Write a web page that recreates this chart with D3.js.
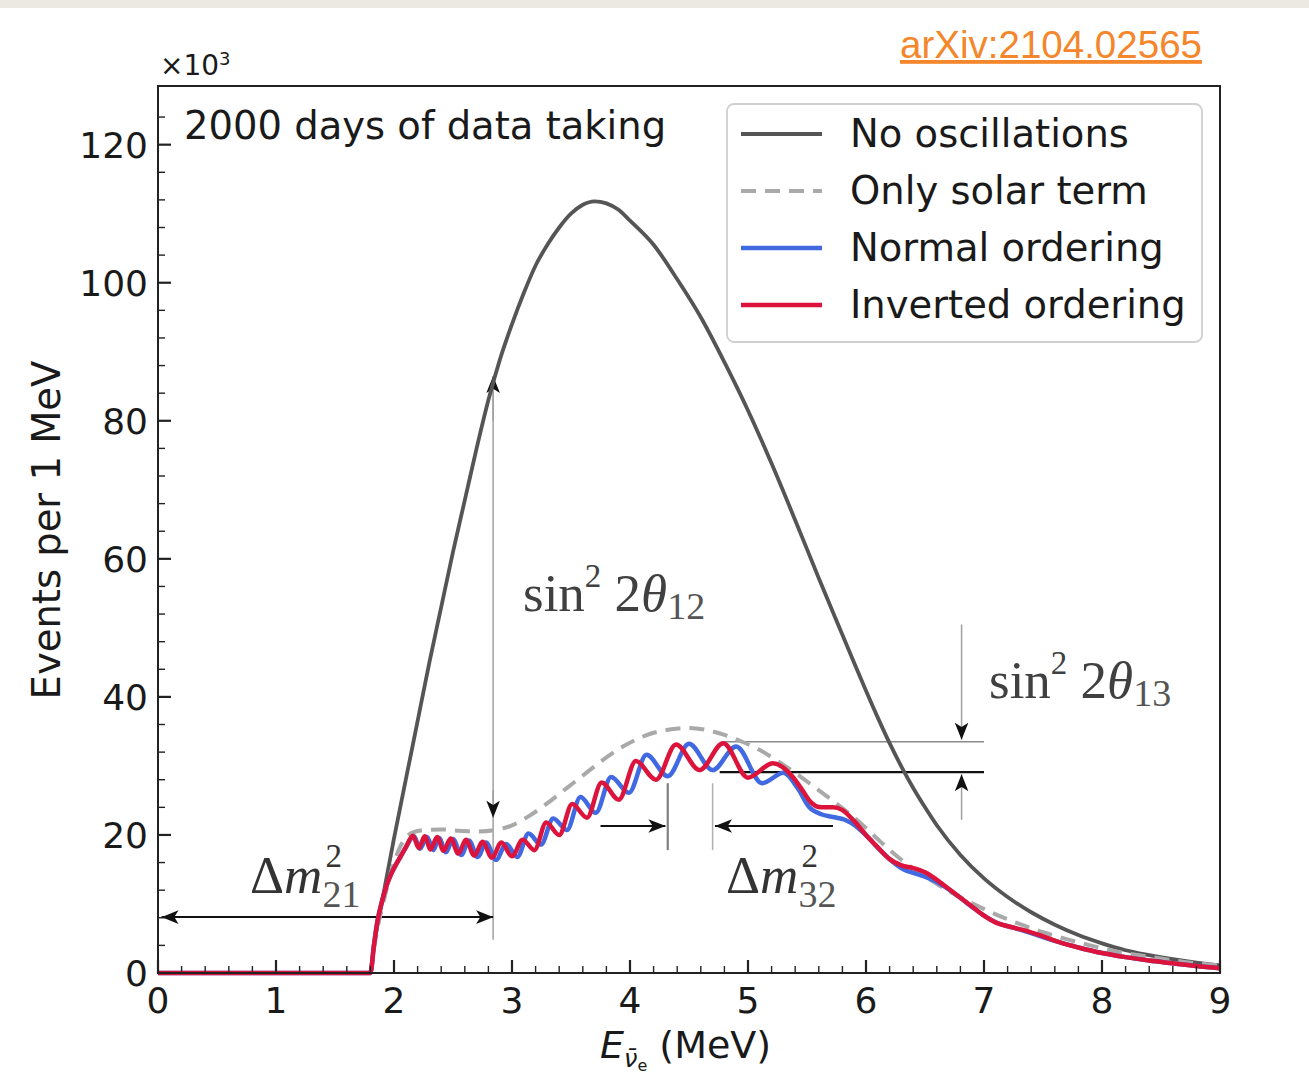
<!DOCTYPE html>
<html>
<head>
<meta charset="utf-8">
<script src="https://cdn.jsdelivr.net/npm/d3@7"></script>
<style>
  body { margin: 0; background: #fff; }
</style>
</head>
<body>
<div id="chart"></div>
<script>
// ---- data (energy in MeV, events in units of 10^3 per MeV) ----
const xTicks = [0, 1, 2, 3, 4, 5, 6, 7, 8, 9];
const yTicks = [0, 20, 40, 60, 80, 100, 120];
const seriesNames = ["No oscillations", "Only solar term", "Normal ordering", "Inverted ordering"];

const noOscillations = [
  [0, 0], [1.8, 0], [1.83, 4], [1.86, 7], [1.9, 10.5], [1.95, 15], [2.0, 19.5], [2.1, 28],
  [2.2, 36.5], [2.3, 45], [2.4, 53], [2.5, 61], [2.6, 68.5], [2.7, 76], [2.8, 83], [2.9, 89],
  [3.0, 94], [3.1, 98.5], [3.2, 102.5], [3.3, 105.5], [3.4, 108], [3.5, 110], [3.6, 111.3],
  [3.7, 111.8], [3.8, 111.5], [3.9, 110.6], [4.0, 109], [4.2, 105.5], [4.4, 100.5], [4.6, 95],
  [4.8, 88.5], [5.0, 81.5], [5.2, 73.8], [5.4, 65.6], [5.6, 57.2], [5.8, 49], [5.9, 44.9],
  [6.0, 40.9], [6.1, 37], [6.2, 33.3], [6.3, 29.9], [6.4, 26.8], [6.5, 24], [6.6, 21.4],
  [6.8, 17.1], [7.0, 13.7], [7.2, 11], [7.4, 8.8], [7.6, 7], [7.8, 5.5], [8.0, 4.3], [8.2, 3.3],
  [8.4, 2.6], [8.6, 2], [8.8, 1.5], [9.0, 1.1]
];

const solarOnly = [
  [1.8, 0], [1.83, 3.5], [1.86, 6.5], [1.9, 9.5], [1.95, 13], [2.0, 16], [2.05, 18.2], [2.1, 19.6],
  [2.15, 20.3], [2.25, 20.7], [2.4, 20.8], [2.55, 20.6], [2.7, 20.5], [2.85, 20.7], [3.0, 21.4],
  [3.15, 22.8], [3.3, 24.6], [3.45, 26.6], [3.6, 28.6], [3.75, 30.6], [3.9, 32.4], [4.05, 33.8],
  [4.2, 34.8], [4.35, 35.3], [4.5, 35.5], [4.65, 35.2], [4.8, 34.5], [4.95, 33.5], [5.1, 32.3],
  [5.25, 30.7], [5.4, 29], [5.55, 27.1], [5.7, 25.2], [5.85, 23.2], [6.0, 21], [6.15, 18.6],
  [6.3, 16.4], [6.5, 14], [6.7, 11.9], [6.9, 10.1], [7.1, 8.5], [7.3, 7.1], [7.5, 5.9],
  [7.7, 4.9], [7.9, 4.0], [8.1, 3.2], [8.3, 2.6], [8.5, 2.1], [8.7, 1.6], [9.0, 1.1]
];

const normalOrdering = [
  [0, 0], [1.8, 0], [1.83, 4], [1.86, 7.5], [1.9, 10.5], [1.94, 12.8], [1.98, 14.5], [2.02, 15.8],
  [2.06, 17], [2.1, 18.2], [2.17, 19.8], [2.22, 18.0], [2.28, 19.7], [2.335, 17.8], [2.38, 19.6],
  [2.44, 17.5], [2.5, 19.4], [2.57, 17.1], [2.635, 19.2], [2.71, 16.8], [2.78, 18.9], [2.865, 16.4],
  [2.95, 18.7], [3.045, 16.8], [3.14, 20.2], [3.245, 18.6], [3.35, 22.4], [3.465, 20.7],
  [3.58, 25.5], [3.71, 23.2], [3.84, 28.4], [3.99, 26.1], [4.14, 31.6], [4.32, 28.5],
  [4.5, 33.2], [4.7, 29.4], [4.9, 32.8], [5.12, 27.5], [5.3, 29.0], [5.42, 26.8], [5.52, 24.0],
  [5.62, 23.0], [5.72, 22.6], [5.82, 22.2], [5.92, 21.2], [6.02, 19.6], [6.12, 17.8], [6.22, 16.2],
  [6.32, 15.0], [6.42, 14.4], [6.52, 13.8], [6.62, 13.0], [6.72, 11.9], [6.82, 10.6], [6.92, 9.3],
  [7.02, 8.1], [7.12, 7.2], [7.24, 6.6], [7.36, 6.0], [7.5, 5.2], [7.65, 4.4], [7.8, 3.7],
  [8.0, 2.9], [8.2, 2.3], [8.4, 1.8], [8.6, 1.4], [8.8, 1.0], [9.0, 0.7]
];

const invertedOrdering = [
  [0, 0], [1.8, 0], [1.83, 4], [1.86, 7.5], [1.9, 10.5], [1.94, 12.8], [1.98, 14.5], [2.02, 15.8],
  [2.06, 17], [2.1, 18.2], [2.16, 19.9], [2.21, 18.1], [2.26, 19.8], [2.31, 17.9], [2.365, 19.7],
  [2.42, 17.7], [2.48, 19.5], [2.545, 17.3], [2.61, 19.3], [2.68, 17.0], [2.75, 19.0], [2.83, 16.7],
  [2.91, 18.9], [3.0, 16.9], [3.09, 19.3], [3.19, 17.8], [3.29, 21.8], [3.4, 20.0], [3.51, 24.5],
  [3.635, 22.5], [3.76, 27.6], [3.905, 25.1], [4.05, 30.7], [4.22, 28.0], [4.39, 33.1],
  [4.59, 29.4], [4.79, 33.3], [5.0, 28.3], [5.21, 30.4], [5.38, 28.4], [5.46, 26.5], [5.53, 24.8],
  [5.62, 24.0], [5.72, 24.0], [5.8, 23.6], [5.9, 22.0], [6.0, 20.0], [6.1, 18.2], [6.2, 16.5],
  [6.3, 15.6], [6.4, 15.2], [6.5, 14.6], [6.6, 13.5], [6.7, 12.2], [6.8, 10.9], [6.9, 9.6],
  [7.0, 8.3], [7.1, 7.3], [7.22, 6.7], [7.36, 6.1], [7.5, 5.3], [7.65, 4.4], [7.8, 3.7],
  [8.0, 2.9], [8.2, 2.3], [8.4, 1.8], [8.6, 1.4], [8.8, 1.0], [9.0, 0.7]
];

(function () {
  // ---- layout ----
  var width = 1309, height = 1084;
  var plotLeft = 158, plotRight = 1220, plotTop = 86, plotBottom = 973;

  var svg = d3.select("#chart").append("svg")
    .attr("width", width)
    .attr("height", height)
    .attr("font-family", "DejaVu Sans, sans-serif");

  // arrow head
  svg.append("defs").append("marker")
    .attr("id", "head")
    .attr("viewBox", "0 0 10 10")
    .attr("refX", 10).attr("refY", 5)
    .attr("markerWidth", 17).attr("markerHeight", 17)
    .attr("markerUnits", "userSpaceOnUse")
    .attr("orient", "auto-start-reverse")
    .append("path")
    .attr("d", "M0,1 L10,5 L0,9 L2.5,5 z")
    .attr("fill", "#111");

  // page strip at the very top
  svg.append("rect").attr("x", 0).attr("y", 0).attr("width", width).attr("height", 8).attr("fill", "#ece9e3");

  var x = d3.scaleLinear().domain([0, 9]).range([plotLeft, plotRight]);
  var y = d3.scaleLinear().domain([0, 128.5]).range([plotBottom, plotTop]);

  var line = d3.line()
    .x(function (d) { return x(d[0]); })
    .y(function (d) { return y(d[1]); })
    .curve(d3.curveMonotoneX);

  var styles = [
    {data: noOscillations, color: "#555555", width: 3.8, dash: null},
    {data: solarOnly, color: "#a9a9a9", width: 4, dash: "15,9"},
    {data: normalOrdering, color: "#4169e1", width: 4.5, dash: null},
    {data: invertedOrdering, color: "#dc143c", width: 4.5, dash: null}
  ];

  // ---- annotation helpers ----
  function seg(x1, y1, x2, y2, color, w, startHead, endHead) {
    var l = svg.append("line")
      .attr("x1", x(x1)).attr("y1", y(y1))
      .attr("x2", x(x2)).attr("y2", y(y2))
      .attr("stroke", color).attr("stroke-width", w);
    if (startHead) l.attr("marker-start", "url(#head)");
    if (endHead) l.attr("marker-end", "url(#head)");
    return l;
  }

  // sin^2 2theta12 arrow (vertical at 2.84 MeV)
  seg(2.84, 4.8, 2.84, 85, "#a0a0a0", 1.5, false, false);
  seg(2.84, 80, 2.84, 86.5, "#a0a0a0", 1.5, false, true);
  seg(2.84, 26.5, 2.84, 22.5, "#a0a0a0", 1.5, false, true);

  // Delta m^2_21 double arrow
  seg(0.03, 8.1, 2.84, 8.1, "#111", 2, true, true);

  // Delta m^2_32 markers
  seg(4.32, 17.8, 4.32, 27.5, "#808080", 2.2, false, false);
  seg(4.7, 17.8, 4.7, 27.5, "#b0b0b0", 1.5, false, false);
  seg(3.75, 21.3, 4.3, 21.3, "#111", 2, false, true);
  seg(5.72, 21.3, 4.72, 21.3, "#111", 2, false, true);

  // sin^2 2theta13 markers
  seg(4.79, 33.5, 7.0, 33.5, "#8a8a8a", 1.6, false, false);
  seg(4.76, 29.1, 7.0, 29.1, "#111", 2.2, false, false);
  seg(6.81, 50.5, 6.81, 33.8, "#a0a0a0", 1.5, false, true);
  seg(6.81, 22.2, 6.81, 28.8, "#a0a0a0", 1.5, false, true);

  // ---- series ----
  styles.forEach(function (s) {
    svg.append("path")
      .datum(s.data)
      .attr("d", line)
      .attr("fill", "none")
      .attr("stroke", s.color)
      .attr("stroke-width", s.width)
      .attr("stroke-dasharray", s.dash)
      .attr("stroke-linejoin", "round");
  });

  // ---- axes ----
  var xMinor = d3.range(0, 9.001, 0.2);
  var yMinor = d3.range(0, 128, 4);

  svg.append("g").selectAll("line").data(xMinor).enter().append("line")
    .attr("x1", function (d) { return x(d); }).attr("x2", function (d) { return x(d); })
    .attr("y1", plotBottom).attr("y2", function (d) { return Math.abs(d - Math.round(d)) < 1e-6 ? plotBottom - 13 : plotBottom - 7; })
    .attr("stroke", "#222")
    .attr("stroke-width", function (d) { return Math.abs(d - Math.round(d)) < 1e-6 ? 2.2 : 1.4; });

  svg.append("g").selectAll("line").data(yMinor).enter().append("line")
    .attr("y1", function (d) { return y(d); }).attr("y2", function (d) { return y(d); })
    .attr("x1", plotLeft).attr("x2", function (d) { return d % 20 === 0 ? plotLeft + 13 : plotLeft + 7; })
    .attr("stroke", "#222")
    .attr("stroke-width", function (d) { return d % 20 === 0 ? 2.2 : 1.4; });

  svg.append("rect")
    .attr("x", plotLeft).attr("y", plotTop)
    .attr("width", plotRight - plotLeft).attr("height", plotBottom - plotTop)
    .attr("fill", "none").attr("stroke", "#222").attr("stroke-width", 2);

  svg.append("g").selectAll("text").data(xTicks).enter().append("text")
    .attr("x", function (d) { return x(d); })
    .attr("y", plotBottom + 40)
    .attr("text-anchor", "middle")
    .attr("font-size", 36)
    .attr("fill", "#1a1a1a")
    .text(function (d) { return d; });

  svg.append("g").selectAll("text").data(yTicks).enter().append("text")
    .attr("x", plotLeft - 10)
    .attr("y", function (d) { return y(d) + 13; })
    .attr("text-anchor", "end")
    .attr("font-size", 36)
    .attr("fill", "#1a1a1a")
    .text(function (d) { return d; });

  // multiplier
  var mult = svg.append("text").attr("x", 160).attr("y", 75).attr("font-size", 28).attr("fill", "#1a1a1a");
  mult.append("tspan").text("×10");
  mult.append("tspan").attr("dy", -10).attr("font-size", 18).text("3");

  // axis titles
  svg.append("text")
    .attr("transform", "translate(60,530) rotate(-90)")
    .attr("text-anchor", "middle")
    .attr("font-size", 38.5)
    .attr("fill", "#1a1a1a")
    .text("Events per 1 MeV");

  var xl = svg.append("text").attr("x", 600).attr("y", 1058).attr("font-size", 38).attr("fill", "#1a1a1a");
  xl.append("tspan").attr("font-style", "italic").text("E");
  xl.append("tspan").attr("font-size", 24).attr("dy", 9).attr("font-style", "italic").text("ν̄");
  xl.append("tspan").attr("font-size", 16).attr("dy", 4).text("e");
  xl.append("tspan").attr("dy", -13).text(" (MeV)");

  // in-plot title
  svg.append("text").attr("x", 184).attr("y", 139).attr("font-size", 38.5).attr("fill", "#1a1a1a")
    .text("2000 days of data taking");

  // arXiv reference
  svg.append("text").attr("x", 900).attr("y", 58)
    .attr("font-family", "Liberation Sans, Arial, sans-serif")
    .attr("font-size", 38)
    .attr("fill", "#f4862c")
    .attr("text-decoration", "underline")
    .attr("textLength", 302)
    .attr("lengthAdjust", "spacingAndGlyphs")
    .text("arXiv:2104.02565");

  // ---- math labels ----
  var serif = "Liberation Serif, Times New Roman, serif";

  function sinLabel(px, py, sub) {
    var t = svg.append("text").attr("x", px).attr("y", py)
      .attr("font-family", serif).attr("font-size", 53).attr("fill", "#404040");
    t.append("tspan").text("sin");
    t.append("tspan").attr("font-size", 33).attr("dy", -24).text("2");
    t.append("tspan").attr("dy", 24).text(" 2");
    t.append("tspan").attr("font-style", "italic").text("θ");
    t.append("tspan").attr("font-size", 38).attr("dy", 8).attr("fill", "#555").text(sub);
  }
  sinLabel(523, 611, "12");
  sinLabel(989, 698, "13");

  function dmLabel(px, py, sub) {
    var t = svg.append("text").attr("x", px).attr("y", py)
      .attr("font-family", serif).attr("font-size", 53).attr("fill", "#333");
    t.append("tspan").text("Δ");
    t.append("tspan").attr("font-style", "italic").text("m");
    var w = t.node().getComputedTextLength();
    svg.append("text").attr("x", px + w + 3).attr("y", py - 26)
      .attr("font-family", serif).attr("font-size", 33).attr("fill", "#333").text("2");
    svg.append("text").attr("x", px + w).attr("y", py + 14)
      .attr("font-family", serif).attr("font-size", 38).attr("fill", "#555").text(sub);
  }
  dmLabel(250, 893, "21");
  dmLabel(726, 893, "32");

  // ---- legend ----
  var legend = svg.append("g");
  legend.append("rect")
    .attr("x", 727).attr("y", 104).attr("width", 475).attr("height", 238)
    .attr("rx", 7).attr("fill", "#fff").attr("fill-opacity", 0.85)
    .attr("stroke", "#d0d0d0").attr("stroke-width", 1.8);

  styles.forEach(function (s, i) {
    var ly = 134 + i * 57;
    legend.append("line")
      .attr("x1", 741).attr("x2", 822).attr("y1", ly).attr("y2", ly)
      .attr("stroke", s.color).attr("stroke-width", s.width)
      .attr("stroke-dasharray", s.dash);
    legend.append("text")
      .attr("x", 850).attr("y", ly + 13)
      .attr("font-size", 38.5).attr("fill", "#1a1a1a")
      .text(seriesNames[i]);
  });
})();
</script>
</body>
</html>
